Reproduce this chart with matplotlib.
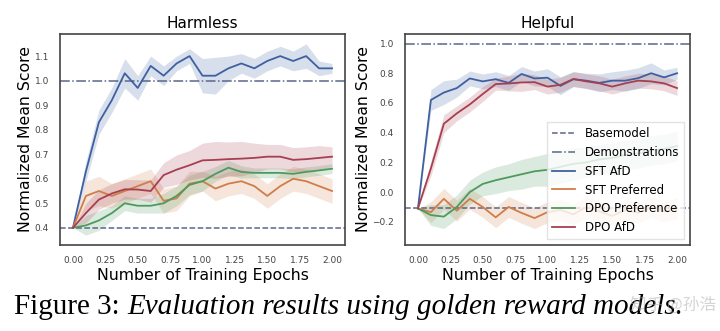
import numpy as np
import matplotlib
matplotlib.use("Agg")
import matplotlib.pyplot as plt

# Training epochs (x-axis)
epochs = [0.0, 0.1, 0.2, 0.3, 0.4, 0.5, 0.6, 0.7, 0.8, 0.9, 1.0,
          1.1, 1.2, 1.3, 1.4, 1.5, 1.6, 1.7, 1.8, 1.9, 2.0]

series_names = ["SFT AfD", "SFT Preferred", "DPO Preference", "DPO AfD"]

# Harmless panel
harmless_base = 0.4
harmless_demo = 1.0
harmless_sft_afd = [0.40, 0.63, 0.83, 0.92, 1.03, 0.97, 1.06, 1.02, 1.07, 1.10, 1.02,
                    1.02, 1.05, 1.07, 1.05, 1.08, 1.10, 1.08, 1.10, 1.05, 1.05]
harmless_sft_afd_err = [0.0, 0.04, 0.05, 0.05, 0.06, 0.05, 0.04, 0.04, 0.03, 0.03, 0.07,
                        0.075, 0.05, 0.04, 0.04, 0.04, 0.04, 0.04, 0.05, 0.03, 0.02]
harmless_sft_pref = [0.40, 0.53, 0.55, 0.53, 0.55, 0.57, 0.59, 0.51, 0.52, 0.58, 0.59,
                     0.56, 0.58, 0.59, 0.57, 0.53, 0.57, 0.60, 0.59, 0.57, 0.55]
harmless_sft_pref_err = [0.0, 0.06, 0.06, 0.05, 0.05, 0.05, 0.05, 0.05, 0.05, 0.05, 0.04,
                         0.05, 0.05, 0.05, 0.05, 0.05, 0.05, 0.05, 0.05, 0.05, 0.05]
harmless_dpo_pref = [0.40, 0.41, 0.43, 0.46, 0.50, 0.49, 0.49, 0.50, 0.53, 0.575, 0.59,
                     0.62, 0.645, 0.628, 0.624, 0.624, 0.624, 0.62, 0.628, 0.634, 0.641]
harmless_dpo_pref_err = [0.0, 0.04, 0.04, 0.03, 0.03, 0.03, 0.03, 0.04, 0.04, 0.04, 0.04,
                         0.03, 0.03, 0.025, 0.02, 0.02, 0.02, 0.02, 0.02, 0.02, 0.02]
harmless_dpo_afd = [0.40, 0.46, 0.515, 0.54, 0.557, 0.556, 0.55, 0.615, 0.637, 0.655, 0.675,
                    0.677, 0.68, 0.682, 0.685, 0.69, 0.69, 0.677, 0.68, 0.685, 0.69]
harmless_dpo_afd_err = [0.0, 0.04, 0.04, 0.04, 0.04, 0.04, 0.045, 0.05, 0.06, 0.06, 0.07,
                        0.075, 0.07, 0.07, 0.06, 0.05, 0.05, 0.05, 0.05, 0.05, 0.04]

# Helpful panel
helpful_base = -0.11
helpful_demo = 1.0
helpful_sft_afd = [-0.11, 0.62, 0.67, 0.70, 0.765, 0.745, 0.76, 0.735, 0.795, 0.765, 0.77,
                   0.715, 0.76, 0.75, 0.735, 0.75, 0.75, 0.767, 0.80, 0.772, 0.80]
helpful_sft_afd_err = [0.0, 0.07, 0.08, 0.06, 0.05, 0.05, 0.05, 0.05, 0.05, 0.05, 0.06,
                       0.06, 0.05, 0.05, 0.06, 0.06, 0.07, 0.07, 0.07, 0.05, 0.04]
helpful_sft_pref = [-0.11, -0.135, -0.045, -0.125, -0.045, -0.10, -0.17, -0.10, -0.14, -0.175, -0.135,
                    -0.12, -0.15, -0.10, -0.13, -0.16, -0.12, -0.14, -0.10, -0.13, -0.11]
helpful_sft_pref_err = [0.0, 0.07, 0.07, 0.07, 0.07, 0.07, 0.07, 0.07, 0.07, 0.07, 0.07,
                        0.07, 0.07, 0.07, 0.07, 0.07, 0.07, 0.07, 0.07, 0.07, 0.07]
helpful_dpo_pref = [-0.11, -0.155, -0.165, -0.10, 0.0, 0.055, 0.08, 0.10, 0.12, 0.14, 0.15,
                    0.17, 0.19, 0.20, 0.22, 0.23, 0.25, 0.26, 0.28, 0.29, 0.31]
helpful_dpo_pref_err = [0.0, 0.07, 0.08, 0.08, 0.08, 0.08, 0.09, 0.09, 0.1, 0.1, 0.11,
                        0.11, 0.11, 0.1, 0.1, 0.1, 0.1, 0.1, 0.1, 0.1, 0.1]
helpful_dpo_afd = [-0.11, 0.16, 0.46, 0.53, 0.59, 0.66, 0.727, 0.731, 0.738, 0.74, 0.71,
                   0.722, 0.761, 0.745, 0.732, 0.71, 0.732, 0.75, 0.745, 0.732, 0.70]
helpful_dpo_afd_err = [0.0, 0.05, 0.06, 0.05, 0.05, 0.05, 0.04, 0.05, 0.06, 0.05, 0.05,
                       0.05, 0.05, 0.05, 0.05, 0.05, 0.05, 0.05, 0.05, 0.05, 0.05]

colors = ["#3f60a0", "#d07d4a", "#4e9a5e", "#a63f50"]
ref_color = "#5a6788"

plt.rcParams["font.family"] = ["DejaVu Sans"]

fig = plt.figure(figsize=(7.2, 3.31), dpi=100)
ax1 = fig.add_axes([60 / 720, 86 / 331, 285 / 720, 211 / 331])
ax2 = fig.add_axes([405 / 720, 86 / 331, 285 / 720, 211 / 331])

panels = [
    (ax1, "Harmless", harmless_base, harmless_demo,
     [harmless_sft_afd, harmless_sft_pref, harmless_dpo_pref, harmless_dpo_afd],
     [harmless_sft_afd_err, harmless_sft_pref_err, harmless_dpo_pref_err, harmless_dpo_afd_err],
     (0.33, 1.19), [0.4, 0.5, 0.6, 0.7, 0.8, 0.9, 1.0, 1.1]),
    (ax2, "Helpful", helpful_base, helpful_demo,
     [helpful_sft_afd, helpful_sft_pref, helpful_dpo_pref, helpful_dpo_afd],
     [helpful_sft_afd_err, helpful_sft_pref_err, helpful_dpo_pref_err, helpful_dpo_afd_err],
     (-0.356, 1.064), [-0.2, 0.0, 0.2, 0.4, 0.6, 0.8, 1.0]),
]

x = np.array(epochs)
for ax, title, base, demo, ys, errs, ylim, yticks in panels:
    ax.axhline(base, color=ref_color, ls="--", lw=1.1, label="Basemodel")
    ax.axhline(demo, color=ref_color, ls="-.", lw=1.1, label="Demonstrations")
    for name, y, e, c in zip(series_names, ys, errs, colors):
        y = np.array(y)
        e = np.array(e)
        ax.fill_between(x, y - e, y + e, color=c, alpha=0.2, lw=0)
        ax.plot(x, y, color=c, lw=1.3, label=name)
    ax.set_xlim(-0.1, 2.1)
    ax.set_ylim(*ylim)
    ax.set_xticks([0.0, 0.25, 0.5, 0.75, 1.0, 1.25, 1.5, 1.75, 2.0])
    ax.set_xticklabels(["0.00", "0.25", "0.50", "0.75", "1.00", "1.25", "1.50", "1.75", "2.00"])
    ax.set_yticks(yticks)
    ax.set_yticklabels([f"{t:.1f}".replace("-", "\u2212") for t in yticks])
    ax.tick_params(length=0, labelsize=6.5, labelcolor="#444444", pad=8)
    for s in ax.spines.values():
        s.set_color("#444444")
        s.set_linewidth(1.2)
    ax.set_title(title, fontsize=11, pad=4)
    ax.set_xlabel("Number of Training Epochs", fontsize=11.3, labelpad=2)
    ax.set_ylabel("Normalized Mean Score", fontsize=11.3, labelpad=1)

ax2.legend(loc="lower right", fontsize=8.5, frameon=True, framealpha=0.8,
           edgecolor="#dddddd", fancybox=False, handlelength=2.0)

# caption
t1 = fig.text(14 / 720, 1 - 314 / 331, "Figure 3: ", family="Liberation Serif",
              fontsize=21, va="baseline")
fig.canvas.draw()
bb = t1.get_window_extent()
fig.text(bb.x1 / 720, 1 - 314 / 331, "Evaluation results using golden reward models.",
         family="Liberation Serif", style="italic", fontsize=21, va="baseline")

fig.text(716 / 720, 1 - 310 / 331, "知乎 @孙浩", family=["Noto Sans CJK SC", "DejaVu Sans"],
         fontsize=12, color="#aaaaaa", alpha=0.5, ha="right", va="baseline")

fig.savefig("out.png", dpi=100)
